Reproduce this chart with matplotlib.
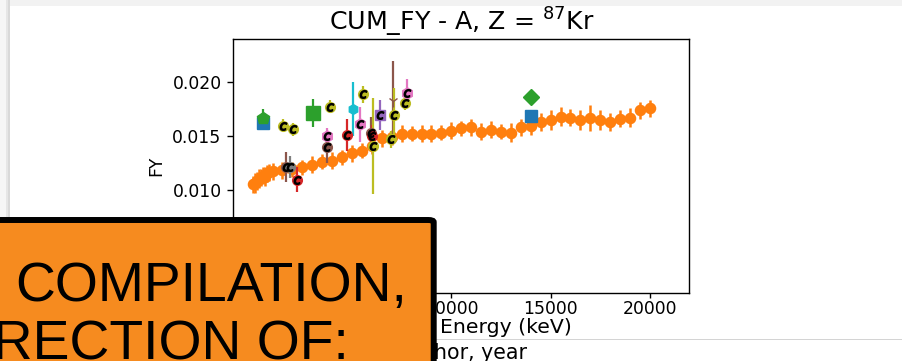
import matplotlib
matplotlib.use("Agg")
import matplotlib.pyplot as plt
from matplotlib.patches import Rectangle, FancyBboxPatch

# evaluated cumulative yield vs incident energy (keV)
eval_e = [0, 100, 200, 300, 400, 500, 600, 700, 800, 1000,
          1500, 2000, 2500, 3000, 3500, 4000, 4500, 5000, 5500, 6000,
          6500, 7000, 7500, 8000, 8500, 9000, 9500, 10000, 10500, 11000,
          11500, 12000, 12500, 13000, 13500, 14000, 14500, 15000, 15500, 16000,
          16500, 17000, 17500, 18000, 18500, 19000, 19500, 20000]
eval_fy = [0.0105, 0.0106, 0.0108, 0.0110, 0.0111, 0.0113, 0.0112, 0.0115, 0.0116, 0.0117,
           0.0118, 0.0119, 0.0121, 0.0123, 0.0126, 0.0127, 0.0130, 0.0134, 0.0136, 0.0141,
           0.0148, 0.0149, 0.0152, 0.0152, 0.0152, 0.0152, 0.0153, 0.0155, 0.0157, 0.0158,
           0.0154, 0.0156, 0.0154, 0.0153, 0.0158, 0.0159, 0.0163, 0.0165, 0.0168, 0.0167,
           0.0165, 0.0167, 0.0165, 0.0163, 0.0166, 0.0167, 0.0174, 0.0176]
eval_err = [0.0008, 0.0009, 0.0008, 0.0009, 0.0008, 0.0008, 0.0009, 0.0008, 0.0008, 0.0008,
            0.0008, 0.0007, 0.0007, 0.0008, 0.0007, 0.0008, 0.0007, 0.0008, 0.0007, 0.0008,
            0.0008, 0.0007, 0.0008, 0.0007, 0.0008, 0.0008, 0.0007, 0.0008, 0.0007, 0.0008,
            0.0008, 0.0008, 0.0007, 0.0009, 0.0008, 0.0008, 0.0008, 0.0009, 0.0009, 0.0008,
            0.0009, 0.0012, 0.0009, 0.0008, 0.0008, 0.0009, 0.0008, 0.0008]

# experimental points: energy, yield, uncertainty, data set
exp_e = [500, 500, 1510, 2014, 3021, 3892, 1700, 1900, 2215, 3726,
         3756, 4763, 5065, 5403, 5539, 5950, 6000, 6050, 6410, 6948,
         7080, 7115, 7652, 7753, 14000, 14000]
exp_fy = [0.0162, 0.01664, 0.01594, 0.01564, 0.01716, 0.01772, 0.0121, 0.0121, 0.01093, 0.01498,
          0.01398, 0.01507, 0.0175, 0.01607, 0.0189, 0.0153, 0.0150, 0.01405, 0.01694, 0.01467,
          0.01825, 0.01694, 0.01809, 0.01897, 0.01685, 0.01865]
exp_err = [0.0002, 0.0009, 0.0006, 0.0006, 0.0013, 0.0006, 0.0014, 0.0010, 0.0012, 0.0008,
           0.0015, 0.0015, 0.0025, 0.0016, 0.0008, 0.0015, 0.0010, 0.0045, 0.0014, 0.0008,
           0.0037, 0.0025, 0.0007, 0.0013, 0.0002, 0.0002]
exp_set = ['blue_s', 'green_p', 'olive', 'olive', 'green_s', 'olive', 'brown', 'gray', 'red', 'pink',
           'brown', 'red', 'cyan', 'pink', 'olive', 'brown', 'red', 'olive', 'purple', 'olive',
           'brown_t', 'olive', 'olive', 'pink', 'blue_s', 'green_d']

# color, marker, marker size, "c" flag drawn on top
set_style = {
    'blue_s': ('tab:blue', 's', 8, False),
    'green_p': ('tab:green', 'p', 9, False),
    'green_s': ('tab:green', 's', 10, False),
    'green_d': ('tab:green', 'D', 8, False),
    'olive': ('tab:olive', 'o', 7, True),
    'brown': ('tab:brown', 'o', 7, True),
    'gray': ('tab:gray', 'o', 7, True),
    'red': ('tab:red', 'o', 7, True),
    'pink': ('tab:pink', 'h', 8, True),
    'cyan': ('tab:cyan', 'h', 7, False),
    'purple': ('tab:purple', 's', 7, True),
    'brown_t': ('tab:brown', '1', 8, False),
}

W, H = 902, 361


def frac(x0, y0, x1, y1):
    # pixel box (top-left origin) -> figure fraction rect
    return [x0 / W, 1 - y1 / H, (x1 - x0) / W, (y1 - y0) / H]


def main():
    fig = plt.figure(figsize=(W / 100, H / 100), dpi=100)
    fig.patch.set_facecolor('white')

    # page background around the card
    fig.add_artist(Rectangle((0, 1 - 6 / H), 1, 6 / H, transform=fig.transFigure,
                             color='#f2f2f2', lw=0, zorder=-5))
    for x0, x1, c in [(0, 6, '#f6f6f6'), (6, 8, '#e6e6e6'), (8, 10, '#d9d9d9')]:
        fig.add_artist(Rectangle((x0 / W, 0), (x1 - x0) / W, 1, transform=fig.transFigure,
                                 color=c, lw=0, zorder=-5))
    fig.add_artist(Rectangle((0, 1 - 340 / H), 1, 1.5 / H, transform=fig.transFigure,
                             color='#d4d4d4', lw=0, zorder=-4))

    ax = fig.add_axes(frac(233.5, 39.3, 689.3, 293))
    ax.errorbar(eval_e, eval_fy, yerr=eval_err, fmt='o', color='#ff7f0e',
                ms=7.3, elinewidth=1.8, capsize=0, zorder=2)

    for e, fy, err, s in zip(exp_e, exp_fy, exp_err, exp_set):
        color, marker, ms, with_c = set_style[s]
        ax.errorbar([e], [fy], yerr=[err], fmt=marker, color=color, ms=ms,
                    elinewidth=1.6, capsize=0, zorder=3)
        if with_c:
            ax.plot([e], [fy], marker='$c$', color='black', ms=5.5, ls='none', zorder=4)

    ax.set_xlim(-967, 21984)
    ax.set_ylim(0.00034, 0.02402)
    ax.set_xticks([0, 5000, 10000, 15000, 20000])
    ax.set_yticks([0.005, 0.010, 0.015, 0.020])
    ax.tick_params(labelsize=12.4, length=4.3, width=1, pad=4.3)
    ax.tick_params(axis='x', length=3.6, pad=1.2)
    for sp in ax.spines.values():
        sp.set_linewidth(1)
    ax.set_title('CUM_FY - A, Z = $^{87}$Kr', fontsize=18.2, pad=6)
    ax.set_ylabel('FY', fontsize=12.4, labelpad=4.9)
    ax.set_xlabel('Incident Energy (keV)', fontsize=14.7)
    ax.xaxis.label.set_ha('right')
    ax.xaxis.set_label_coords((572 - 233.5) / (689.3 - 233.5), -0.097)

    fig.text(527 / W, 1 - 359 / H, 'Author, year', ha='right', va='baseline', fontsize=14.8)

    # orange banner over the lower left corner
    fig.add_artist(FancyBboxPatch((-30 / W, -40 / H), 463.7 / W, (361 + 40 - 220) / H,
                                  boxstyle='round,pad=0,rounding_size=0.006',
                                  transform=fig.transFigure, facecolor='#f68b1f',
                                  edgecolor='black', lw=4.3, zorder=5))
    fig.text(15.5 / W, 1 - 300.7 / H, 'COMPILATION,', family='Liberation Sans',
             fontsize=39.8, ha='left', va='baseline', zorder=6)
    fig.text(349 / W, 1 - 360 / H, 'CORRECTION OF:', family='Liberation Sans',
             fontsize=39.8, ha='right', va='baseline', zorder=6)

    fig.savefig('out.png', dpi=100)


if __name__ == '__main__':
    main()
